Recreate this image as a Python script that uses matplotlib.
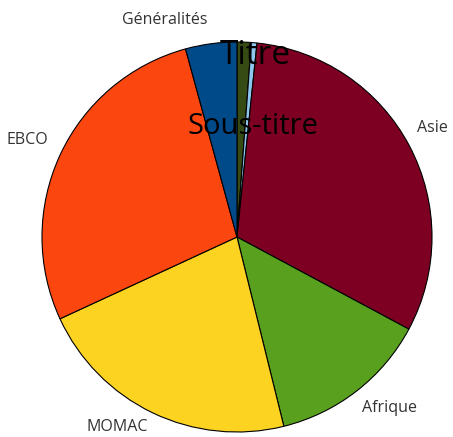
import matplotlib
matplotlib.use("Agg")
import matplotlib.pyplot as plt

plt.rcParams['font.family'] = ['Open Sans', 'DejaVu Sans']

labels = ["", "", "Asie", "Afrique", "MOMAC", "EBCO", "Généralités"]
values = [4.2, 1.7, 112.3, 47.9, 79.1, 99.5, 15.3]
colors = ["#364a14", "#8ec6ee", "#7d0022", "#58a01e", "#fdd322", "#fc4610", "#004a8a"]

W, H = 453, 437
fig = plt.figure(figsize=(W / 100, H / 100), dpi=100)
cx, cy, r = 237, 237, 195
ax = fig.add_axes([(cx - r) / W, (H - cy - r) / H, 2 * r / W, 2 * r / H])
wedges, texts = ax.pie(values, labels=labels, colors=colors, startangle=90,
                       counterclock=False, radius=1,
                       wedgeprops=dict(edgecolor="black", linewidth=0.8),
                       labeldistance=1.1,
                       textprops=dict(fontsize=11.5, color="#333333"))
# label placement tweaks (layout only)
label_pos = {"Asie": (0.923, 0.559), "Afrique": (0.641, -0.877),
             "MOMAC": (-0.456, -0.975), "EBCO": (-0.969, 0.497),
             "Généralités": (-0.149, 1.113)}
for t in texts:
    t.set_clip_on(False)
    if t.get_text() in label_pos:
        t.set_position(label_pos[t.get_text()])
        t.set_va("center")
ax.set_xlim(-1, 1)
ax.set_ylim(-1, 1)
ax.axis("off")

fig.text(255 / W, 1 - 55 / H, "Titre", ha="center", va="center", fontsize=24, color="black")
fig.text(253 / W, 1 - 126 / H, "Sous-titre", ha="center", va="center", fontsize=21, color="black")

fig.savefig("out.png", dpi=100)
